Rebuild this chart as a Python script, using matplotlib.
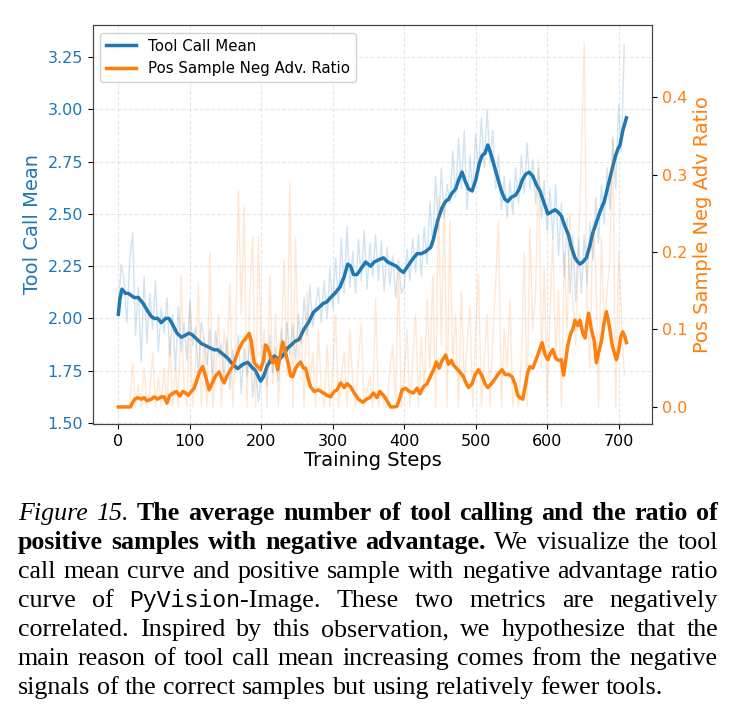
import numpy as np
import matplotlib
matplotlib.use('Agg')
import matplotlib.pyplot as plt

# smoothed tool call mean
mean_steps = [0, 2, 5, 10, 14, 18, 22, 28, 35, 42, 46, 50, 55, 60, 66, 71, 76, 82, 88, 94,
              99, 104, 110, 116, 122, 128, 134, 139, 146, 153, 160, 167, 174, 181, 186, 192, 199, 203, 208, 213,
              218, 222, 227, 232, 237, 241, 247, 253, 260, 266, 273, 280, 286, 292, 297, 303, 310, 316, 321, 325,
              329, 334, 340, 346, 353, 358, 364, 371, 377, 383, 389, 395, 399, 405, 411, 418, 424, 430, 437, 441,
              447, 453, 458, 462, 467, 472, 477, 481, 485, 490, 495, 500, 505, 509, 513, 517, 521, 526, 531, 536,
              541, 545, 550, 556, 561, 565, 570, 575, 580, 585, 590, 595, 601, 606, 611, 615, 620, 625, 630, 634,
              639, 643, 646, 650, 655, 660, 664, 669, 674, 680, 685, 690, 695, 699, 702, 706, 711]
mean_vals = [2.02, 2.09, 2.14, 2.12, 2.12, 2.11, 2.10, 2.10, 2.07, 2.03, 2.01, 2.00, 2.00, 1.98, 2.00, 2.00, 1.97, 1.93, 1.91, 1.92,
             1.93, 1.92, 1.90, 1.88, 1.87, 1.86, 1.85, 1.85, 1.83, 1.81, 1.78, 1.76, 1.78, 1.79, 1.77, 1.75, 1.70, 1.72, 1.77, 1.80,
             1.82, 1.81, 1.81, 1.83, 1.86, 1.87, 1.89, 1.90, 1.95, 1.98, 2.03, 2.05, 2.07, 2.08, 2.10, 2.12, 2.15, 2.20, 2.26, 2.25,
             2.21, 2.21, 2.24, 2.27, 2.25, 2.27, 2.28, 2.29, 2.27, 2.26, 2.25, 2.23, 2.22, 2.25, 2.28, 2.31, 2.31, 2.32, 2.34, 2.38,
             2.47, 2.53, 2.56, 2.57, 2.60, 2.62, 2.67, 2.70, 2.66, 2.62, 2.61, 2.66, 2.74, 2.78, 2.79, 2.83, 2.79, 2.73, 2.67, 2.61,
             2.57, 2.56, 2.58, 2.59, 2.62, 2.66, 2.69, 2.70, 2.68, 2.64, 2.61, 2.56, 2.50, 2.51, 2.52, 2.51, 2.49, 2.44, 2.40, 2.34,
             2.29, 2.27, 2.26, 2.27, 2.29, 2.35, 2.41, 2.46, 2.51, 2.56, 2.63, 2.70, 2.77, 2.81, 2.83, 2.90, 2.96]

# smoothed pos sample neg adv ratio
ratio_steps = [0, 10, 17, 20, 23, 27, 32, 36, 40, 46, 50, 55, 60, 64, 68, 72, 77, 81, 86, 90,
               94, 98, 102, 106, 110, 114, 118, 122, 127, 131, 136, 141, 145, 148, 152, 157, 161, 165, 169, 174,
               178, 183, 186, 190, 195, 199, 203, 206, 209, 213, 216, 220, 223, 227, 230, 234, 238, 241, 244, 248,
               252, 255, 259, 262, 266, 269, 274, 280, 287, 292, 297, 302, 306, 311, 316, 320, 325, 330, 336, 342,
               347, 352, 357, 362, 366, 371, 376, 381, 386, 390, 394, 397, 402, 407, 413, 418, 422, 427, 432, 436,
               441, 445, 449, 453, 458, 462, 466, 469, 473, 478, 483, 486, 490, 495, 499, 504, 509, 513, 517, 522,
               527, 532, 537, 541, 546, 551, 555, 559, 562, 566, 570, 573, 576, 580, 584, 588, 593, 597, 601, 605,
               608, 612, 616, 620, 623, 626, 629, 633, 636, 639, 643, 646, 650, 653, 656, 658, 662, 666, 669, 672,
               676, 680, 683, 687, 691, 694, 697, 700, 703, 706, 709, 711]
ratio_vals = [0.0, 0.0, 0.0, 0.006, 0.010, 0.012, 0.010, 0.012, 0.008, 0.010, 0.013, 0.010, 0.013, 0.013, 0.005, 0.015, 0.018, 0.020, 0.014, 0.020,
              0.018, 0.015, 0.020, 0.024, 0.035, 0.046, 0.052, 0.040, 0.022, 0.030, 0.040, 0.045, 0.036, 0.031, 0.040, 0.048, 0.055, 0.065, 0.075, 0.084,
              0.088, 0.095, 0.085, 0.057, 0.052, 0.048, 0.060, 0.080, 0.077, 0.065, 0.057, 0.062, 0.048, 0.070, 0.084, 0.070, 0.055, 0.040, 0.039, 0.050,
              0.055, 0.058, 0.050, 0.050, 0.035, 0.026, 0.020, 0.022, 0.018, 0.015, 0.013, 0.020, 0.022, 0.031, 0.025, 0.030, 0.026, 0.018, 0.010, 0.006,
              0.010, 0.012, 0.018, 0.012, 0.020, 0.015, 0.008, 0.0, 0.0, 0.001, 0.012, 0.022, 0.024, 0.020, 0.018, 0.024, 0.017, 0.026, 0.030, 0.038,
              0.048, 0.058, 0.050, 0.060, 0.067, 0.055, 0.060, 0.054, 0.050, 0.045, 0.039, 0.032, 0.025, 0.030, 0.041, 0.048, 0.040, 0.030, 0.025, 0.030,
              0.036, 0.043, 0.048, 0.042, 0.042, 0.039, 0.030, 0.015, 0.012, 0.010, 0.030, 0.045, 0.052, 0.050, 0.060, 0.070, 0.083, 0.068, 0.061, 0.070,
              0.074, 0.063, 0.060, 0.061, 0.041, 0.060, 0.080, 0.095, 0.100, 0.112, 0.105, 0.112, 0.095, 0.089, 0.110, 0.121, 0.100, 0.085, 0.057, 0.070,
              0.085, 0.110, 0.123, 0.105, 0.080, 0.070, 0.061, 0.072, 0.090, 0.097, 0.090, 0.083]

# raw (unsmoothed) values, every 4 steps from 0 to 708
raw_steps = list(range(0, 709, 4))
raw_mean = [2.05, 2.26, 2.18, 1.98, 2.28, 2.41, 1.92, 2.15, 1.79, 2.20,
            1.88, 2.12, 1.95, 2.18, 1.84, 2.05, 1.93, 2.10, 1.82, 2.02,
            1.75, 2.06, 1.84, 1.98, 1.80, 2.09, 1.87, 1.96, 1.72, 1.98,
            1.90, 1.78, 1.95, 1.70, 1.94, 1.82, 1.88, 1.71, 1.90, 1.66,
            1.85, 1.74, 1.92, 1.64, 1.86, 1.72, 1.90, 1.62, 1.78, 1.60,
            1.72, 1.88, 1.68, 1.92, 1.74, 1.86, 1.70, 1.95, 1.80, 1.98,
            1.82, 1.97, 1.80, 2.02, 1.88, 2.10, 1.92, 2.16, 1.96, 2.06,
            2.15, 1.98, 2.18, 2.00, 2.24, 2.05, 2.29, 2.07, 2.38, 2.12,
            2.44, 2.15, 2.32, 2.12, 2.38, 2.18, 2.42, 2.14, 2.36, 2.20,
            2.40, 2.18, 2.37, 2.13, 2.34, 2.16, 2.30, 2.10, 2.28, 2.12,
            2.15, 2.33, 2.18, 2.38, 2.22, 2.40, 2.20, 2.44, 2.26, 2.56,
            2.34, 2.68, 2.42, 2.72, 2.48, 2.64, 2.55, 2.80, 2.58, 2.86,
            2.62, 2.90, 2.52, 2.78, 2.60, 2.88, 2.70, 2.96, 2.72, 3.00,
            2.75, 2.90, 2.62, 2.78, 2.52, 2.68, 2.48, 2.66, 2.50, 2.72,
            2.55, 2.78, 2.60, 2.84, 2.62, 2.76, 2.55, 2.72, 2.48, 2.66,
            2.42, 2.62, 2.38, 2.64, 2.30, 2.55, 2.20, 2.48, 2.12, 2.40,
            2.08, 2.38, 2.12, 2.40, 2.16, 2.46, 2.28, 2.58, 2.36, 2.64,
            2.45, 2.72, 2.52, 2.86, 2.62, 3.02, 2.80, 3.31]
raw_ratio = [0, 0, 0, 0, 0, 0.057, 0, 0.03, 0, 0.05,
             0, 0.02, 0.07, 0, 0.04, 0, 0.05, 0, 0.09, 0,
             0.05, 0, 0.17, 0.02, 0, 0.13, 0, 0.06, 0.16, 0,
             0.09, 0, 0.20, 0, 0.04, 0.12, 0, 0.10, 0.06, 0.16,
             0, 0.08, 0.28, 0.12, 0.26, 0, 0.15, 0.22, 0, 0.22,
             0.06, 0.10, 0, 0.17, 0.03, 0.12, 0, 0.08, 0.19, 0.04,
             0.29, 0, 0.22, 0.06, 0.10, 0, 0.15, 0.03, 0.07, 0,
             0.10, 0.02, 0, 0.08, 0, 0.05, 0.12, 0, 0.04, 0.07,
             0, 0.10, 0.03, 0, 0.06, 0.11, 0, 0.02, 0.04, 0,
             0.14, 0, 0.02, 0, 0, 0.05, 0.08, 0, 0.18, 0,
             0.04, 0.10, 0, 0.06, 0.12, 0, 0.09, 0.02, 0.14, 0.05,
             0.17, 0, 0.27, 0.08, 0.27, 0, 0.24, 0.06, 0.12, 0,
             0.15, 0.03, 0.08, 0.13, 0, 0.10, 0.17, 0, 0.06, 0.12,
             0, 0.09, 0.16, 0.24, 0, 0.10, 0.05, 0.14, 0, 0.03,
             0, 0.06, 0.20, 0, 0.23, 0.10, 0.15, 0.32, 0.05, 0.18,
             0, 0.12, 0.22, 0.06, 0.15, 0, 0.20, 0.10, 0.25, 0.14,
             0.08, 0.20, 0.33, 0.47, 0.12, 0.05, 0.24, 0.18, 0, 0.22,
             0.10, 0.15, 0.19, 0.35, 0, 0.20, 0.12, 0.04]

x_ticks = [0, 100, 200, 300, 400, 500, 600, 700]
left_ticks = [1.50, 1.75, 2.00, 2.25, 2.50, 2.75, 3.00, 3.25]
right_ticks = [0.0, 0.1, 0.2, 0.3, 0.4]

# caption, one entry per printed line: (style, text)
caption = [
    [('it', 'Figure 15. '), ('bf', 'The average number of tool calling and the ratio of')],
    [('bf', 'positive samples with negative advantage. '), ('rm', 'We visualize the tool')],
    [('rm', 'call mean curve and positive sample with negative advantage ratio')],
    [('rm', 'curve of '), ('tt', 'PyVision'), ('rm', '-Image. These two metrics are negatively')],
    [('rm', 'correlated. Inspired by this observation, we hypothesize that the')],
    [('rm', 'main reason of tool call mean increasing comes from the negative')],
    [('rm', 'signals of the correct samples but using relatively fewer tools.')],
]

blue = '#1f77b4'
orange = '#ff7f0e'

fig = plt.figure(figsize=(7.34, 7.25), dpi=100)
ax = fig.add_axes([0.1267, 0.4152, 0.7613, 0.5503])
ax2 = ax.twinx()

ax.plot(raw_steps, raw_mean, color=blue, alpha=0.2, lw=1)
l1, = ax.plot(mean_steps, mean_vals, color=blue, lw=2.5, label='Tool Call Mean')
ax2.plot(raw_steps, raw_ratio, color=orange, alpha=0.18, lw=1)
l2, = ax2.plot(ratio_steps, ratio_vals, color=orange, lw=2.5, label='Pos Sample Neg Adv. Ratio')

ax.set_xlim(-35.5, 746.5)
ax.set_ylim(1.495, 3.404)
ax2.set_ylim(-0.022, 0.493)
ax.set_xticks(x_ticks)
ax.set_yticks(left_ticks)
ax2.set_yticks(right_ticks)

ax.tick_params(axis='x', labelsize=11.5)
ax.tick_params(axis='y', labelsize=11.5, labelcolor=blue)
ax2.tick_params(axis='y', labelsize=11.5, labelcolor=orange)
ax.set_xlabel('Training Steps', fontsize=14, labelpad=2)
ax.set_ylabel('Tool Call Mean', fontsize=14, color=blue)
ax2.set_ylabel('Pos Sample Neg Adv Ratio', fontsize=14, color=orange)
ax.grid(True, linestyle='--', alpha=0.3)
for a in (ax, ax2):
    for s in a.spines.values():
        s.set_color('#444444')

ax2.legend(handles=[l1, l2], loc='upper left', fontsize=10.8, framealpha=0.9)

# justified caption
fsize = 18.7
styles = {
    'rm': dict(family='Liberation Serif', fontsize=fsize),
    'it': dict(family='Liberation Serif', style='italic', fontsize=fsize),
    'bf': dict(family='Liberation Serif', weight='bold', fontsize=fsize),
    'tt': dict(family='Liberation Mono', fontsize=fsize * 0.89),
}


def to_words(segs):
    words = []
    glue = False
    for style, text in segs:
        parts = text.split(' ')
        for k, p in enumerate(parts):
            if p == '':
                continue
            if k == 0 and glue and words:
                words[-1].append((style, p))
            else:
                words.append([(style, p)])
        glue = not text.endswith(' ')
    return words


fig.canvas.draw()
renderer = fig.canvas.get_renderer()
W, H = 734, 725
x_left, x_right = 18, 718
base0, step = 520, 29
for i, segs in enumerate(caption):
    words = to_words(segs)
    y = 1 - (base0 + i * step) / H
    items = []
    widths = []
    for w in words:
        pieces = []
        wsum = 0
        for style, p in w:
            t = fig.text(0, y, p, va='baseline', ha='left', **styles[style])
            wd = t.get_window_extent(renderer).width
            pieces.append((t, wd))
            wsum += wd
        items.append(pieces)
        widths.append(wsum)
    if i == len(caption) - 1:
        sp = fig.text(0, y, 'a a', **styles['rm'])
        sp2 = fig.text(0, y, 'aa', **styles['rm'])
        gap = sp.get_window_extent(renderer).width - sp2.get_window_extent(renderer).width
        sp.remove()
        sp2.remove()
    else:
        gap = (x_right - x_left - sum(widths)) / (len(words) - 1)
    x = x_left
    for pieces, wsum in zip(items, widths):
        xx = x
        for t, wd in pieces:
            t.set_x(xx / W)
            xx += wd
        x += wsum + gap

fig.savefig('out.png', dpi=100)
